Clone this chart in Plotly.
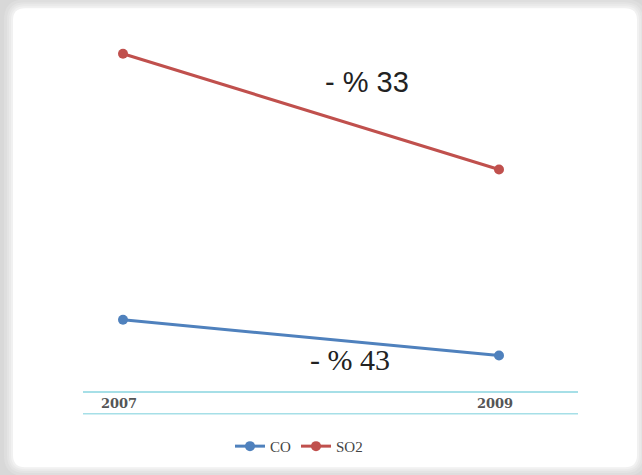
import plotly.graph_objects as go

years = [2007, 2009]
tick_labels = ["2007", "2009"]
co_values = [23.9, 13.7]
so2_values = [100.0, 66.9]
so2_label = "- % 33"
co_label = "- % 43"

W, H = 642, 475
L, R, T, B = 83, 64, 30, 80
PW = W - L - R
PH = H - T - B


def px(x):
    return (x - L) / PW


def py(y):
    return (H - B - y) / PH


def rrect(x0, y0, x1, y1, r):
    # rounded rectangle path in paper coordinates from pixel coords
    a, b, c, d = px(x0), px(x1), py(y0), py(y1)
    rx = r / PW
    ry = r / PH
    return (f"M{a+rx},{c} L{b-rx},{c} Q{b},{c} {b},{c-ry} "
            f"L{b},{d+ry} Q{b},{d} {b-rx},{d} L{a+rx},{d} "
            f"Q{a},{d} {a},{d+ry} L{a},{c-ry} Q{a},{c} {a+rx},{c} Z")


fig = go.Figure()

fig.add_trace(go.Scatter(
    x=years, y=co_values, name="CO", mode="lines+markers",
    line=dict(color="#4f81bd", width=3),
    marker=dict(color="#4f81bd", size=10),
))
fig.add_trace(go.Scatter(
    x=years, y=so2_values, name="SO2", mode="lines+markers",
    line=dict(color="#c0504d", width=3),
    marker=dict(color="#c0504d", size=10),
))

shapes = []
shadow = [(9, "#dedede"), (6, "#e4e4e4"), (4, "#eaeaea"), (2, "#f1f1f1")]
for s, col in shadow:
    shapes.append(dict(type="path", xref="paper", yref="paper", layer="below",
                       path=rrect(13 - s, 8 - s, 637 + s, 472 + s, 12 + s),
                       fillcolor=col, line=dict(width=0)))
shapes.append(dict(type="path", xref="paper", yref="paper", layer="below",
                   path=rrect(13, 8, 637, 472, 12),
                   fillcolor="white", line=dict(width=0)))
# lower cyan rule under the tick labels
shapes.append(dict(type="line", xref="paper", yref="paper", layer="below",
                   x0=0, x1=1, y0=py(418), y1=py(418),
                   line=dict(color="#a6dfe7", width=1.5)))

unit = 3.535
zero = 407.5
ymin = (zero - (H - B)) / unit
ymax = (zero - T) / unit

fig.update_layout(
    width=W, height=H,
    margin=dict(l=L, r=R, t=T, b=B),
    paper_bgcolor="#d8d8d8",
    plot_bgcolor="rgba(0,0,0,0)",
    shapes=shapes,
    showlegend=True,
    legend=dict(orientation="h", x=px(299), xanchor="center", y=py(451), yanchor="middle",
                font=dict(family="Liberation Serif", size=15, color="#444444"),
                bgcolor="rgba(0,0,0,0)", itemwidth=30, tracegroupgap=0),
    xaxis=dict(
        range=[2007 - 40 / 188, 2009 + 79 / 188],
        tickmode="array", tickvals=years, ticktext=tick_labels,
        showgrid=False, zeroline=False, showline=True,
        linecolor="#a6dfe7", linewidth=1.5, ticks="",
        tickfont=dict(family="DejaVu Serif", size=13, color="#555555", weight="bold"),
        ticklabelshift=-4,
    ),
    yaxis=dict(range=[ymin, ymax], visible=False),
    annotations=[
        dict(x=2008.30, y=92.0, xref="x", yref="y", text=so2_label, showarrow=False,
             font=dict(family="Liberation Sans", size=29, color="#222222")),
        dict(x=2008.21, y=12.6, xref="x", yref="y", text=co_label, showarrow=False,
             font=dict(family="Liberation Serif", size=30, color="#222222")),
    ],
)

fig.write_html("out.html", config={"displayModeBar": False},
               post_script="document.body.style.margin='0';")
